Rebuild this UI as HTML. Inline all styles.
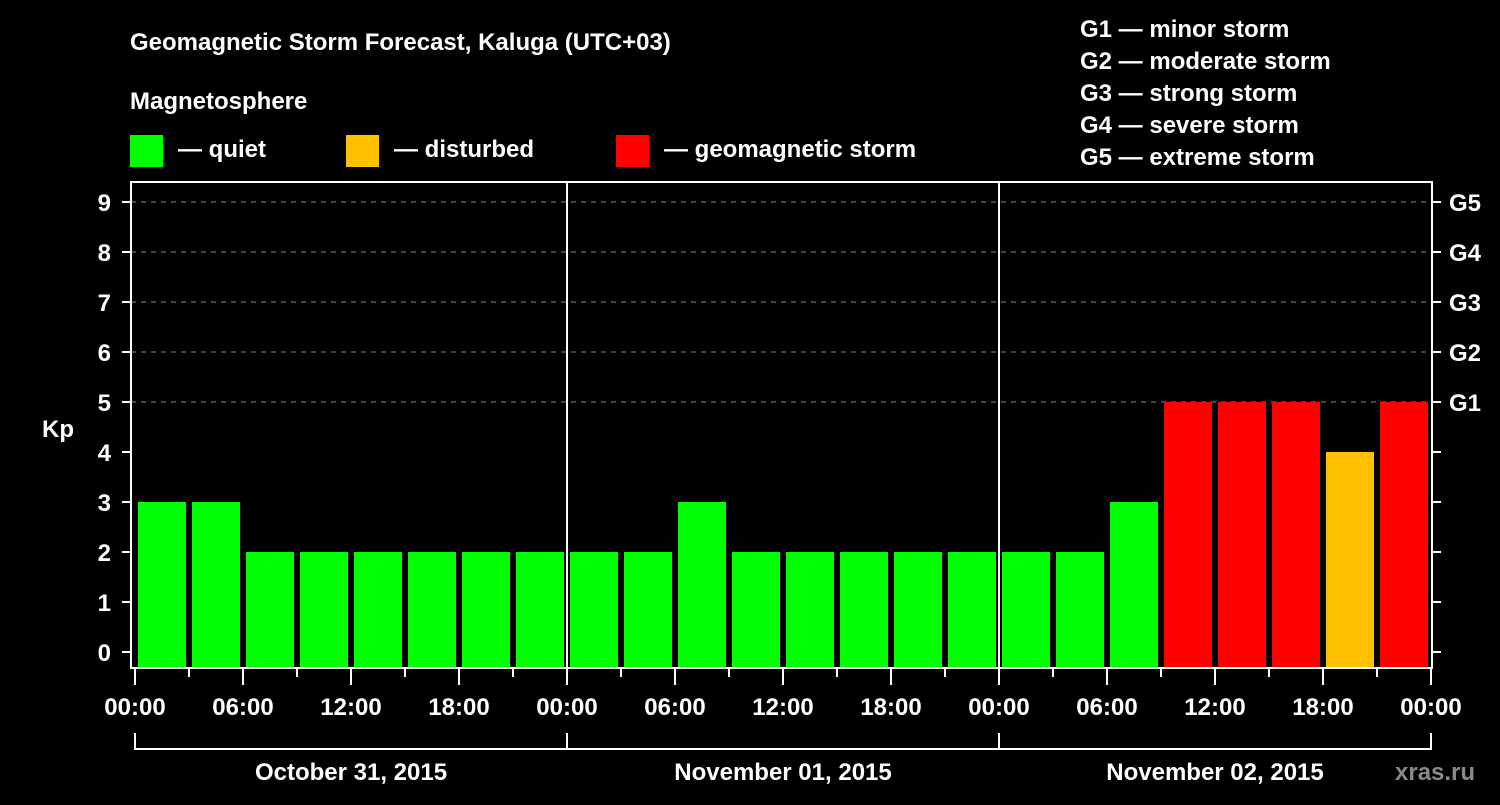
<!DOCTYPE html>
<html><head><meta charset="utf-8"><style>
body{margin:0;background:#000;width:1500px;height:800px;overflow:hidden}
svg text{font-family:"Liberation Sans",sans-serif;font-weight:bold;fill:#fff}
</style></head><body>
<svg id="c" width="1500" height="800">
<text x="130" y="50" font-size="24">Geomagnetic Storm Forecast, Kaluga (UTC+03)</text>
<text x="130" y="109" font-size="24">Magnetosphere</text>
<g><rect x="130" y="135" width="33" height="32" fill="#00ff00"/><text x="178" y="157" font-size="24">— quiet</text></g>
<g><rect x="346" y="135" width="33" height="32" fill="#ffc000"/><text x="394" y="157" font-size="24">— disturbed</text></g>
<g><rect x="616" y="135" width="33" height="32" fill="#ff0000"/><text x="664" y="157" font-size="24">— geomagnetic storm</text></g>
<g font-size="24">
<text x="1080" y="37">G1 — minor storm</text><text x="1080" y="69">G2 — moderate storm</text><text x="1080" y="101">G3 — strong storm</text><text x="1080" y="133">G4 — severe storm</text><text x="1080" y="165">G5 — extreme storm</text></g>
<text x="42" y="437" font-size="24">Kp</text>
<text x="1395" y="780" font-size="24" fill="#888" style="fill:#8a8a8a">xras.ru</text>
<g id="plot"></g>
</svg>
<script>
const kpValues=[3,3,2,2,2,2,2,2, 2,2,3,2,2,2,2,2, 2,2,3,5,5,5,4,5];
const yTicks=[0,1,2,3,4,5,6,7,8,9];
const gLabels=["G1","G2","G3","G4","G5"];
const timeLabels=["00:00","06:00","12:00","18:00"];
const dayLabels=["October 31, 2015","November 01, 2015","November 02, 2015"];
const NS="http://www.w3.org/2000/svg";
const g=document.getElementById('plot');
const X0=135,HOUR=18,L=131,R=1432,T=182,B=668;
const xh=h=>X0+h*HOUR;
const yk=k=>652-k*50;
function mk(tag,attrs){const e=document.createElementNS(NS,tag);for(const k in attrs)e.setAttribute(k,attrs[k]);g.appendChild(e);return e;}
function col(v){return v>=5?"#ff0000":v>=4?"#ffc000":"#00ff00";}
// grid
yTicks.forEach(k=>{
  if(k>=5){const l=mk('line',{x1:L,x2:R,y1:yk(k),y2:yk(k),stroke:'#888','stroke-dasharray':'5,5','stroke-width':1});
  
  }
  mk('line',{x1:L-9,x2:L,y1:yk(k),y2:yk(k),stroke:'#fff','stroke-width':2});
  mk('line',{x1:R,x2:R+9,y1:yk(k),y2:yk(k),stroke:'#fff','stroke-width':2});
  const t=mk('text',{x:L-20,y:yk(k)+9,'font-size':24,'text-anchor':'end'});t.textContent=k;
  
  
});
gLabels.forEach((s,i)=>{const t=mk('text',{x:1449,y:yk(5+i)+9,'font-size':24});t.textContent=s;
  
  });
// bars
kpValues.forEach((v,i)=>{
  const x=xh(i*3)+3,w=3*HOUR-6;
  const r=mk('rect',{x:x,y:yk(v),width:w,height:B-yk(v),fill:col(v)});
  
  
});
// frame
mk('rect',{x:L,y:T,width:R-L,height:B-T,fill:'none',stroke:'#fff','stroke-width':2});
for(let d=1;d<3;d++)mk('line',{x1:xh(d*24),x2:xh(d*24),y1:T,y2:B,stroke:'#fff','stroke-width':2});
// x ticks
for(let i=0;i<=24;i++){const x=xh(i*3);mk('line',{x1:x,x2:x,y1:B+1,y2:B+(i%2?9:17),stroke:'#fff','stroke-width':2});}
for(let d=0;d<3;d++){
  timeLabels.forEach((s,j)=>{const t=mk('text',{x:xh(d*24+j*6),y:715,'font-size':24,'text-anchor':'middle'});t.textContent=s;
    
    });
  const t=mk('text',{x:xh(d*24+12),y:780,'font-size':24,'text-anchor':'middle'});t.textContent=dayLabels[d];
  
  
}
{const t=mk('text',{x:xh(72),y:715,'font-size':24,'text-anchor':'middle'});t.textContent=timeLabels[0];
 
 }
// bracket
mk('line',{x1:xh(0),x2:xh(72),y1:749,y2:749,stroke:'#fff','stroke-width':2});
for(let d=0;d<=3;d++)mk('line',{x1:xh(d*24),x2:xh(d*24),y1:733,y2:750,stroke:'#fff','stroke-width':2});
</script>
</body></html>
